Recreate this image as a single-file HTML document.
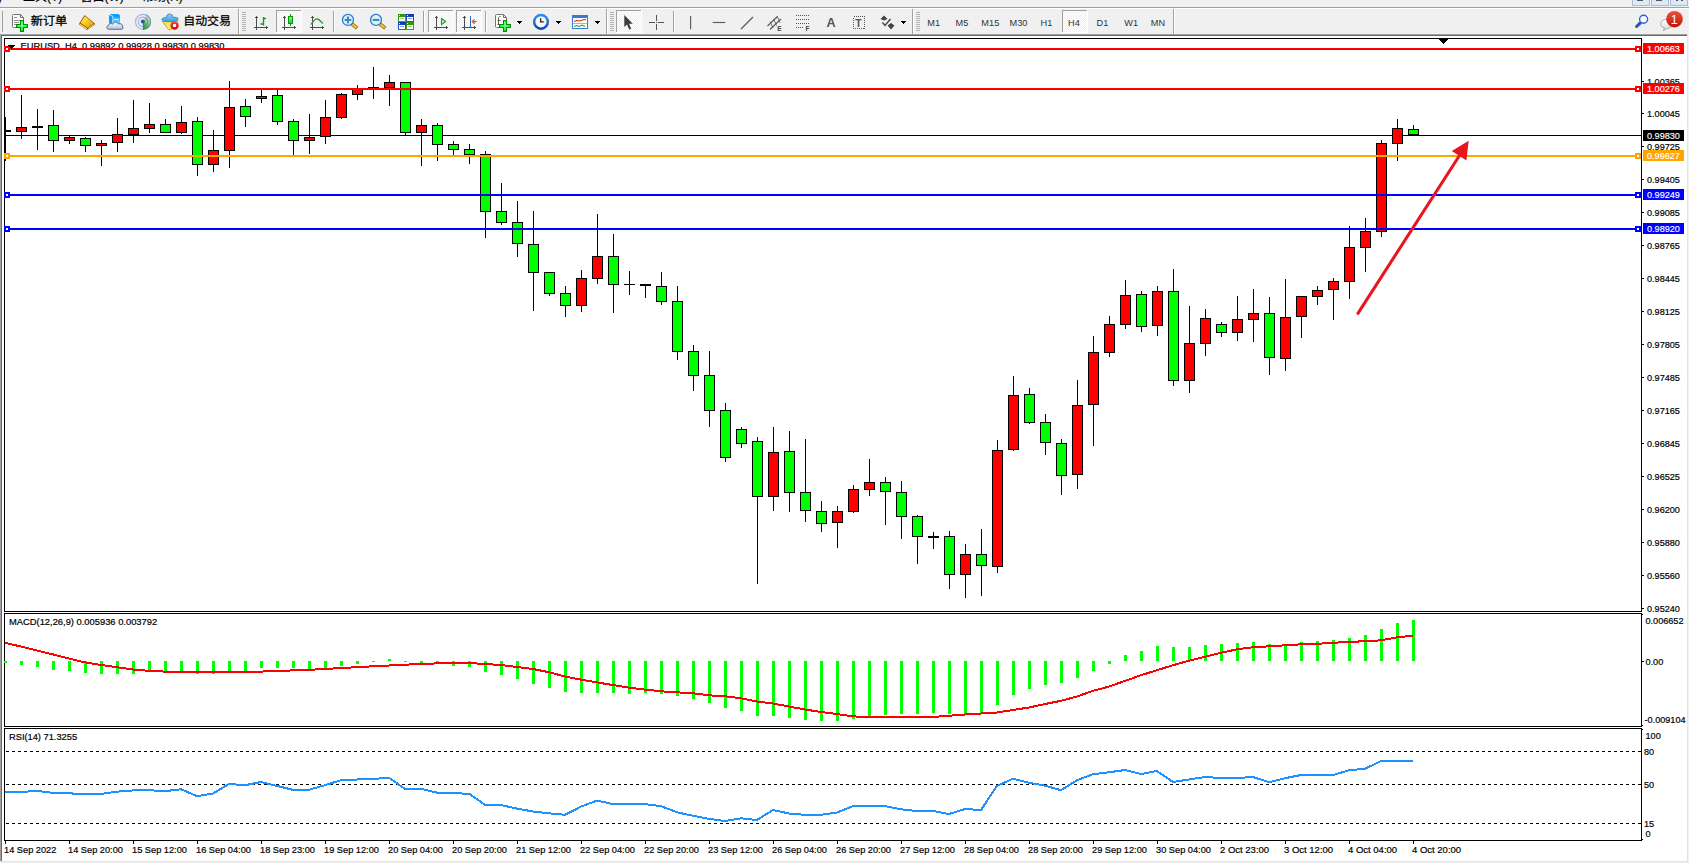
<!DOCTYPE html><html><head><meta charset="utf-8"><title>EURUSD H4</title><style>
html,body{margin:0;padding:0;}body{width:1689px;height:863px;overflow:hidden;background:#f0f0f0;position:relative;font-family:"Liberation Sans", sans-serif;}
#chart{position:absolute;left:0;top:0;}
#chart text{font-family:"Liberation Sans", sans-serif;font-size:9.7px;fill:#000;stroke:#000;stroke-width:0.2px;}#chart text.w{stroke:#fff;stroke-width:0.15px;}
#chart text.cj{stroke-width:0.25px;font:11.4px "Liberation Sans","Noto Sans CJK SC",sans-serif;}#chart .mn text{font:12px "Liberation Sans","Noto Sans CJK SC",sans-serif;}
</style></head><body>
<svg id="chart" width="1689" height="863" viewBox="0 0 1689 863">
<g shape-rendering="crispEdges">
<rect x="0" y="7" width="1689" height="1" fill="#a0a0a0"/><rect x="0" y="8" width="1689" height="1" fill="#ffffff"/>
<rect x="0" y="34" width="1689" height="829" fill="#a0a0a0"/>
<rect x="1" y="35" width="1688" height="828" fill="#696969"/>
<rect x="2" y="36" width="1687" height="827" fill="#ffffff"/>
<rect x="1687" y="34" width="1" height="829" fill="#e3e3e3"/><rect x="1688" y="34" width="1" height="829" fill="#f0f0f0"/>
<rect x="0" y="861" width="1689" height="1" fill="#e3e3e3"/><rect x="0" y="862" width="1689" height="1" fill="#f0f0f0"/>
<rect x="0" y="34" width="1" height="827" fill="#a0a0a0"/><rect x="1" y="35" width="1" height="826" fill="#696969"/>
<path d="M4.5 38.5H1641.5V611.5H4.5Z" fill="none" stroke="#000" stroke-width="1"/>
<path d="M4.5 613.5H1641.5V726.5H4.5Z" fill="none" stroke="#000" stroke-width="1"/>
<path d="M4.5 728.5H1641.5V840.5H4.5Z" fill="none" stroke="#000" stroke-width="1"/>
</g>
<defs><clipPath id="cm"><rect x="5" y="39" width="1636" height="572"/></clipPath></defs>
<g shape-rendering="crispEdges" clip-path="url(#cm)">
</g>
<text transform="translate(20.5 48.7) scale(0.961 1)">EURUSD, H4&#160; 0.99892 0.99928 0.99830 0.99830</text>
<g shape-rendering="crispEdges" clip-path="url(#cm)">
<rect x="5" y="135" width="1636" height="1" fill="#000"/>
<rect x="5" y="117" width="1" height="44" fill="#000"/>
<rect x="0" y="130" width="11" height="2" fill="#000"/>
<rect x="21" y="95" width="1" height="44" fill="#000"/>
<rect x="16.5" y="127.5" width="10" height="4" fill="#ff0000" stroke="#000" stroke-width="1"/>
<rect x="37" y="109" width="1" height="41" fill="#000"/>
<rect x="32" y="126" width="11" height="2" fill="#000"/>
<rect x="53" y="110" width="1" height="42" fill="#000"/>
<rect x="48.5" y="125.5" width="10" height="15" fill="#00ff00" stroke="#000" stroke-width="1"/>
<rect x="69" y="136" width="1" height="8" fill="#000"/>
<rect x="64.5" y="137.5" width="10" height="3" fill="#ff0000" stroke="#000" stroke-width="1"/>
<rect x="85" y="137" width="1" height="15" fill="#000"/>
<rect x="80.5" y="138.5" width="10" height="7" fill="#00ff00" stroke="#000" stroke-width="1"/>
<rect x="101" y="140" width="1" height="26" fill="#000"/>
<rect x="96.5" y="143.5" width="10" height="2" fill="#ff0000" stroke="#000" stroke-width="1"/>
<rect x="117" y="118" width="1" height="34" fill="#000"/>
<rect x="112.5" y="134.5" width="10" height="8" fill="#ff0000" stroke="#000" stroke-width="1"/>
<rect x="133" y="100" width="1" height="43" fill="#000"/>
<rect x="128.5" y="128.5" width="10" height="6" fill="#ff0000" stroke="#000" stroke-width="1"/>
<rect x="149" y="103" width="1" height="30" fill="#000"/>
<rect x="144.5" y="124.5" width="10" height="4" fill="#ff0000" stroke="#000" stroke-width="1"/>
<rect x="165" y="119" width="1" height="14" fill="#000"/>
<rect x="160.5" y="124.5" width="10" height="8" fill="#00ff00" stroke="#000" stroke-width="1"/>
<rect x="181" y="106" width="1" height="28" fill="#000"/>
<rect x="176.5" y="122.5" width="10" height="10" fill="#ff0000" stroke="#000" stroke-width="1"/>
<rect x="197" y="117" width="1" height="59" fill="#000"/>
<rect x="192.5" y="121.5" width="10" height="43" fill="#00ff00" stroke="#000" stroke-width="1"/>
<rect x="213" y="130" width="1" height="42" fill="#000"/>
<rect x="208.5" y="150.5" width="10" height="14" fill="#ff0000" stroke="#000" stroke-width="1"/>
<rect x="229" y="81" width="1" height="87" fill="#000"/>
<rect x="224.5" y="107.5" width="10" height="43" fill="#ff0000" stroke="#000" stroke-width="1"/>
<rect x="245" y="99" width="1" height="28" fill="#000"/>
<rect x="240.5" y="106.5" width="10" height="10" fill="#00ff00" stroke="#000" stroke-width="1"/>
<rect x="261" y="90" width="1" height="13" fill="#000"/>
<rect x="256.5" y="96.5" width="10" height="2" fill="#ff0000" stroke="#000" stroke-width="1"/>
<rect x="277" y="90" width="1" height="35" fill="#000"/>
<rect x="272.5" y="95.5" width="10" height="26" fill="#00ff00" stroke="#000" stroke-width="1"/>
<rect x="293" y="119" width="1" height="36" fill="#000"/>
<rect x="288.5" y="121.5" width="10" height="19" fill="#00ff00" stroke="#000" stroke-width="1"/>
<rect x="309" y="114" width="1" height="40" fill="#000"/>
<rect x="304.5" y="137.5" width="10" height="3" fill="#ff0000" stroke="#000" stroke-width="1"/>
<rect x="325" y="100" width="1" height="44" fill="#000"/>
<rect x="320.5" y="117.5" width="10" height="19" fill="#ff0000" stroke="#000" stroke-width="1"/>
<rect x="341" y="93" width="1" height="26" fill="#000"/>
<rect x="336.5" y="94.5" width="10" height="23" fill="#ff0000" stroke="#000" stroke-width="1"/>
<rect x="357" y="85" width="1" height="15" fill="#000"/>
<rect x="352.5" y="89.5" width="10" height="5" fill="#ff0000" stroke="#000" stroke-width="1"/>
<rect x="373" y="67" width="1" height="32" fill="#000"/>
<rect x="368" y="87" width="11" height="1" fill="#000"/>
<rect x="389" y="75" width="1" height="31" fill="#000"/>
<rect x="384.5" y="82.5" width="10" height="5" fill="#ff0000" stroke="#000" stroke-width="1"/>
<rect x="405" y="82" width="1" height="53" fill="#000"/>
<rect x="400.5" y="82.5" width="10" height="50" fill="#00ff00" stroke="#000" stroke-width="1"/>
<rect x="421" y="119" width="1" height="47" fill="#000"/>
<rect x="416.5" y="125.5" width="10" height="7" fill="#ff0000" stroke="#000" stroke-width="1"/>
<rect x="437" y="123" width="1" height="38" fill="#000"/>
<rect x="432.5" y="125.5" width="10" height="19" fill="#00ff00" stroke="#000" stroke-width="1"/>
<rect x="453" y="141" width="1" height="14" fill="#000"/>
<rect x="448.5" y="144.5" width="10" height="5" fill="#00ff00" stroke="#000" stroke-width="1"/>
<rect x="469" y="144" width="1" height="20" fill="#000"/>
<rect x="464.5" y="149.5" width="10" height="5" fill="#00ff00" stroke="#000" stroke-width="1"/>
<rect x="485" y="151" width="1" height="87" fill="#000"/>
<rect x="480.5" y="154.5" width="10" height="57" fill="#00ff00" stroke="#000" stroke-width="1"/>
<rect x="501" y="183" width="1" height="42" fill="#000"/>
<rect x="496.5" y="211.5" width="10" height="11" fill="#00ff00" stroke="#000" stroke-width="1"/>
<rect x="517" y="201" width="1" height="56" fill="#000"/>
<rect x="512.5" y="222.5" width="10" height="21" fill="#00ff00" stroke="#000" stroke-width="1"/>
<rect x="533" y="211" width="1" height="100" fill="#000"/>
<rect x="528.5" y="244.5" width="10" height="28" fill="#00ff00" stroke="#000" stroke-width="1"/>
<rect x="549" y="272" width="1" height="24" fill="#000"/>
<rect x="544.5" y="272.5" width="10" height="21" fill="#00ff00" stroke="#000" stroke-width="1"/>
<rect x="565" y="286" width="1" height="31" fill="#000"/>
<rect x="560.5" y="293.5" width="10" height="12" fill="#00ff00" stroke="#000" stroke-width="1"/>
<rect x="581" y="270" width="1" height="42" fill="#000"/>
<rect x="576.5" y="278.5" width="10" height="27" fill="#ff0000" stroke="#000" stroke-width="1"/>
<rect x="597" y="214" width="1" height="70" fill="#000"/>
<rect x="592.5" y="256.5" width="10" height="22" fill="#ff0000" stroke="#000" stroke-width="1"/>
<rect x="613" y="234" width="1" height="79" fill="#000"/>
<rect x="608.5" y="256.5" width="10" height="28" fill="#00ff00" stroke="#000" stroke-width="1"/>
<rect x="629" y="271" width="1" height="24" fill="#000"/>
<rect x="624" y="284" width="11" height="1" fill="#000"/>
<rect x="645" y="284" width="1" height="14" fill="#000"/>
<rect x="640" y="284" width="11" height="2" fill="#000"/>
<rect x="661" y="272" width="1" height="33" fill="#000"/>
<rect x="656.5" y="286.5" width="10" height="15" fill="#00ff00" stroke="#000" stroke-width="1"/>
<rect x="677" y="286" width="1" height="74" fill="#000"/>
<rect x="672.5" y="301.5" width="10" height="50" fill="#00ff00" stroke="#000" stroke-width="1"/>
<rect x="693" y="345" width="1" height="46" fill="#000"/>
<rect x="688.5" y="351.5" width="10" height="24" fill="#00ff00" stroke="#000" stroke-width="1"/>
<rect x="709" y="351" width="1" height="76" fill="#000"/>
<rect x="704.5" y="375.5" width="10" height="35" fill="#00ff00" stroke="#000" stroke-width="1"/>
<rect x="725" y="403" width="1" height="59" fill="#000"/>
<rect x="720.5" y="410.5" width="10" height="47" fill="#00ff00" stroke="#000" stroke-width="1"/>
<rect x="741" y="427" width="1" height="21" fill="#000"/>
<rect x="736.5" y="429.5" width="10" height="14" fill="#00ff00" stroke="#000" stroke-width="1"/>
<rect x="757" y="437" width="1" height="147" fill="#000"/>
<rect x="752.5" y="441.5" width="10" height="55" fill="#00ff00" stroke="#000" stroke-width="1"/>
<rect x="773" y="427" width="1" height="84" fill="#000"/>
<rect x="768.5" y="452.5" width="10" height="44" fill="#ff0000" stroke="#000" stroke-width="1"/>
<rect x="789" y="431" width="1" height="81" fill="#000"/>
<rect x="784.5" y="451.5" width="10" height="41" fill="#00ff00" stroke="#000" stroke-width="1"/>
<rect x="805" y="439" width="1" height="83" fill="#000"/>
<rect x="800.5" y="492.5" width="10" height="18" fill="#00ff00" stroke="#000" stroke-width="1"/>
<rect x="821" y="501" width="1" height="31" fill="#000"/>
<rect x="816.5" y="511.5" width="10" height="12" fill="#00ff00" stroke="#000" stroke-width="1"/>
<rect x="837" y="506" width="1" height="42" fill="#000"/>
<rect x="832.5" y="511.5" width="10" height="11" fill="#ff0000" stroke="#000" stroke-width="1"/>
<rect x="853" y="485" width="1" height="28" fill="#000"/>
<rect x="848.5" y="489.5" width="10" height="22" fill="#ff0000" stroke="#000" stroke-width="1"/>
<rect x="869" y="459" width="1" height="37" fill="#000"/>
<rect x="864.5" y="482.5" width="10" height="7" fill="#ff0000" stroke="#000" stroke-width="1"/>
<rect x="885" y="477" width="1" height="48" fill="#000"/>
<rect x="880.5" y="482.5" width="10" height="9" fill="#00ff00" stroke="#000" stroke-width="1"/>
<rect x="901" y="481" width="1" height="58" fill="#000"/>
<rect x="896.5" y="492.5" width="10" height="24" fill="#00ff00" stroke="#000" stroke-width="1"/>
<rect x="917" y="515" width="1" height="49" fill="#000"/>
<rect x="912.5" y="516.5" width="10" height="20" fill="#00ff00" stroke="#000" stroke-width="1"/>
<rect x="933" y="532" width="1" height="17" fill="#000"/>
<rect x="928" y="536" width="11" height="2" fill="#000"/>
<rect x="949" y="531" width="1" height="58" fill="#000"/>
<rect x="944.5" y="536.5" width="10" height="38" fill="#00ff00" stroke="#000" stroke-width="1"/>
<rect x="965" y="544" width="1" height="54" fill="#000"/>
<rect x="960.5" y="554.5" width="10" height="20" fill="#ff0000" stroke="#000" stroke-width="1"/>
<rect x="981" y="529" width="1" height="67" fill="#000"/>
<rect x="976.5" y="554.5" width="10" height="11" fill="#00ff00" stroke="#000" stroke-width="1"/>
<rect x="997" y="440" width="1" height="133" fill="#000"/>
<rect x="992.5" y="450.5" width="10" height="116" fill="#ff0000" stroke="#000" stroke-width="1"/>
<rect x="1013" y="376" width="1" height="75" fill="#000"/>
<rect x="1008.5" y="395.5" width="10" height="54" fill="#ff0000" stroke="#000" stroke-width="1"/>
<rect x="1029" y="388" width="1" height="36" fill="#000"/>
<rect x="1024.5" y="394.5" width="10" height="28" fill="#00ff00" stroke="#000" stroke-width="1"/>
<rect x="1045" y="414" width="1" height="41" fill="#000"/>
<rect x="1040.5" y="422.5" width="10" height="20" fill="#00ff00" stroke="#000" stroke-width="1"/>
<rect x="1061" y="439" width="1" height="56" fill="#000"/>
<rect x="1056.5" y="443.5" width="10" height="32" fill="#00ff00" stroke="#000" stroke-width="1"/>
<rect x="1077" y="380" width="1" height="109" fill="#000"/>
<rect x="1072.5" y="405.5" width="10" height="69" fill="#ff0000" stroke="#000" stroke-width="1"/>
<rect x="1093" y="336" width="1" height="110" fill="#000"/>
<rect x="1088.5" y="352.5" width="10" height="52" fill="#ff0000" stroke="#000" stroke-width="1"/>
<rect x="1109" y="316" width="1" height="41" fill="#000"/>
<rect x="1104.5" y="324.5" width="10" height="28" fill="#ff0000" stroke="#000" stroke-width="1"/>
<rect x="1125" y="280" width="1" height="49" fill="#000"/>
<rect x="1120.5" y="295.5" width="10" height="29" fill="#ff0000" stroke="#000" stroke-width="1"/>
<rect x="1141" y="291" width="1" height="41" fill="#000"/>
<rect x="1136.5" y="294.5" width="10" height="32" fill="#00ff00" stroke="#000" stroke-width="1"/>
<rect x="1157" y="286" width="1" height="50" fill="#000"/>
<rect x="1152.5" y="291.5" width="10" height="34" fill="#ff0000" stroke="#000" stroke-width="1"/>
<rect x="1173" y="269" width="1" height="117" fill="#000"/>
<rect x="1168.5" y="291.5" width="10" height="89" fill="#00ff00" stroke="#000" stroke-width="1"/>
<rect x="1189" y="306" width="1" height="87" fill="#000"/>
<rect x="1184.5" y="343.5" width="10" height="37" fill="#ff0000" stroke="#000" stroke-width="1"/>
<rect x="1205" y="309" width="1" height="47" fill="#000"/>
<rect x="1200.5" y="318.5" width="10" height="25" fill="#ff0000" stroke="#000" stroke-width="1"/>
<rect x="1221" y="322" width="1" height="15" fill="#000"/>
<rect x="1216.5" y="324.5" width="10" height="8" fill="#00ff00" stroke="#000" stroke-width="1"/>
<rect x="1237" y="296" width="1" height="45" fill="#000"/>
<rect x="1232.5" y="319.5" width="10" height="13" fill="#ff0000" stroke="#000" stroke-width="1"/>
<rect x="1253" y="289" width="1" height="53" fill="#000"/>
<rect x="1248.5" y="313.5" width="10" height="6" fill="#ff0000" stroke="#000" stroke-width="1"/>
<rect x="1269" y="297" width="1" height="78" fill="#000"/>
<rect x="1264.5" y="313.5" width="10" height="44" fill="#00ff00" stroke="#000" stroke-width="1"/>
<rect x="1285" y="279" width="1" height="92" fill="#000"/>
<rect x="1280.5" y="317.5" width="10" height="41" fill="#ff0000" stroke="#000" stroke-width="1"/>
<rect x="1301" y="296" width="1" height="42" fill="#000"/>
<rect x="1296.5" y="296.5" width="10" height="20" fill="#ff0000" stroke="#000" stroke-width="1"/>
<rect x="1317" y="286" width="1" height="19" fill="#000"/>
<rect x="1312.5" y="290.5" width="10" height="6" fill="#ff0000" stroke="#000" stroke-width="1"/>
<rect x="1333" y="278" width="1" height="42" fill="#000"/>
<rect x="1328.5" y="281.5" width="10" height="8" fill="#ff0000" stroke="#000" stroke-width="1"/>
<rect x="1349" y="226" width="1" height="73" fill="#000"/>
<rect x="1344.5" y="247.5" width="10" height="34" fill="#ff0000" stroke="#000" stroke-width="1"/>
<rect x="1365" y="218" width="1" height="54" fill="#000"/>
<rect x="1360.5" y="231.5" width="10" height="16" fill="#ff0000" stroke="#000" stroke-width="1"/>
<rect x="1381" y="140" width="1" height="97" fill="#000"/>
<rect x="1376.5" y="143.5" width="10" height="88" fill="#ff0000" stroke="#000" stroke-width="1"/>
<rect x="1397" y="119" width="1" height="42" fill="#000"/>
<rect x="1392.5" y="128.5" width="10" height="15" fill="#ff0000" stroke="#000" stroke-width="1"/>
<rect x="1413" y="125" width="1" height="10" fill="#000"/>
<rect x="1408.5" y="129.5" width="10" height="5" fill="#00ff00" stroke="#000" stroke-width="1"/>
<rect x="5" y="48" width="1636" height="2" fill="#ff0000"/>
<rect x="5" y="88" width="1636" height="2" fill="#ff0000"/>
<rect x="5" y="155" width="1636" height="2" fill="#ffa500"/>
<rect x="5" y="194" width="1636" height="2" fill="#0000ff"/>
<rect x="5" y="228" width="1636" height="2" fill="#0000ff"/>
</g>
<g shape-rendering="crispEdges">
<rect x="4" y="46" width="6" height="6" fill="#ff0000"/><rect x="6" y="48" width="2" height="2" fill="#fff"/>
<rect x="1635" y="46" width="6" height="6" fill="#ff0000"/><rect x="1637" y="48" width="2" height="2" fill="#fff"/>
<rect x="4" y="86" width="6" height="6" fill="#ff0000"/><rect x="6" y="88" width="2" height="2" fill="#fff"/>
<rect x="1635" y="86" width="6" height="6" fill="#ff0000"/><rect x="1637" y="88" width="2" height="2" fill="#fff"/>
<rect x="4" y="153" width="6" height="6" fill="#ffa500"/><rect x="6" y="155" width="2" height="2" fill="#fff"/>
<rect x="1635" y="153" width="6" height="6" fill="#ffa500"/><rect x="1637" y="155" width="2" height="2" fill="#fff"/>
<rect x="4" y="192" width="6" height="6" fill="#0000ff"/><rect x="6" y="194" width="2" height="2" fill="#fff"/>
<rect x="1635" y="192" width="6" height="6" fill="#0000ff"/><rect x="1637" y="194" width="2" height="2" fill="#fff"/>
<rect x="4" y="226" width="6" height="6" fill="#0000ff"/><rect x="6" y="228" width="2" height="2" fill="#fff"/>
<rect x="1635" y="226" width="6" height="6" fill="#0000ff"/><rect x="1637" y="228" width="2" height="2" fill="#fff"/>
<path d="M8 45H15L11.5 49Z" fill="#000"/>
<path d="M1438.5 39H1448.5L1443.5 44Z" fill="#000"/>
<rect x="1642" y="81" width="2" height="1" fill="#000"/>
<rect x="1642" y="113" width="2" height="1" fill="#000"/>
<rect x="1642" y="146" width="2" height="1" fill="#000"/>
<rect x="1642" y="179" width="2" height="1" fill="#000"/>
<rect x="1642" y="212" width="2" height="1" fill="#000"/>
<rect x="1642" y="245" width="2" height="1" fill="#000"/>
<rect x="1642" y="278" width="2" height="1" fill="#000"/>
<rect x="1642" y="311" width="2" height="1" fill="#000"/>
<rect x="1642" y="344" width="2" height="1" fill="#000"/>
<rect x="1642" y="377" width="2" height="1" fill="#000"/>
<rect x="1642" y="410" width="2" height="1" fill="#000"/>
<rect x="1642" y="443" width="2" height="1" fill="#000"/>
<rect x="1642" y="476" width="2" height="1" fill="#000"/>
<rect x="1642" y="509" width="2" height="1" fill="#000"/>
<rect x="1642" y="542" width="2" height="1" fill="#000"/>
<rect x="1642" y="575" width="2" height="1" fill="#000"/>
<rect x="1642" y="608" width="2" height="1" fill="#000"/>
</g>
<text transform="translate(1647 84.6) scale(0.94 1)">1.00365</text>
<text transform="translate(1647 116.6) scale(0.94 1)">1.00045</text>
<text transform="translate(1647 149.6) scale(0.94 1)">0.99725</text>
<text transform="translate(1647 182.6) scale(0.94 1)">0.99405</text>
<text transform="translate(1647 215.6) scale(0.94 1)">0.99085</text>
<text transform="translate(1647 248.6) scale(0.94 1)">0.98765</text>
<text transform="translate(1647 281.6) scale(0.94 1)">0.98445</text>
<text transform="translate(1647 314.6) scale(0.94 1)">0.98125</text>
<text transform="translate(1647 347.6) scale(0.94 1)">0.97805</text>
<text transform="translate(1647 380.6) scale(0.94 1)">0.97485</text>
<text transform="translate(1647 413.6) scale(0.94 1)">0.97165</text>
<text transform="translate(1647 446.6) scale(0.94 1)">0.96845</text>
<text transform="translate(1647 479.6) scale(0.94 1)">0.96525</text>
<text transform="translate(1647 512.6) scale(0.94 1)">0.96200</text>
<text transform="translate(1647 545.6) scale(0.94 1)">0.95880</text>
<text transform="translate(1647 578.6) scale(0.94 1)">0.95560</text>
<text transform="translate(1647 611.6) scale(0.94 1)">0.95240</text>
<rect x="1643" y="43" width="41" height="11" fill="#ff0000" shape-rendering="crispEdges"/>
<text transform="translate(1647 51.7) scale(0.94 1)" class="w" style="fill:#fff">1.00663</text>
<rect x="1643" y="83" width="41" height="11" fill="#ff0000" shape-rendering="crispEdges"/>
<text transform="translate(1647 91.7) scale(0.94 1)" class="w" style="fill:#fff">1.00276</text>
<rect x="1643" y="130" width="41" height="11" fill="#000000" shape-rendering="crispEdges"/>
<text transform="translate(1647 138.7) scale(0.94 1)" class="w" style="fill:#fff">0.99830</text>
<rect x="1643" y="150" width="41" height="11" fill="#ffa500" shape-rendering="crispEdges"/>
<text transform="translate(1647 158.7) scale(0.94 1)" class="w" style="fill:#fff">0.99627</text>
<rect x="1643" y="189" width="41" height="11" fill="#0000ff" shape-rendering="crispEdges"/>
<text transform="translate(1647 197.7) scale(0.94 1)" class="w" style="fill:#fff">0.99249</text>
<rect x="1643" y="223" width="41" height="11" fill="#0000ff" shape-rendering="crispEdges"/>
<text transform="translate(1647 231.7) scale(0.94 1)" class="w" style="fill:#fff">0.98920</text>
<g stroke="#e8141f" fill="#e8141f"><line x1="1357.3" y1="314.3" x2="1459.5" y2="155.5" stroke-width="3.05"/><path d="M1468.7 140.7L1451.8 151.1L1466.4 160.5Z" stroke="none"/></g>
<g shape-rendering="crispEdges">
<rect x="4" y="661" width="3" height="2" fill="#00ff00"/>
<rect x="20" y="661" width="3" height="4" fill="#00ff00"/>
<rect x="36" y="661" width="3" height="6" fill="#00ff00"/>
<rect x="52" y="661" width="3" height="9" fill="#00ff00"/>
<rect x="68" y="661" width="3" height="10" fill="#00ff00"/>
<rect x="84" y="661" width="3" height="12" fill="#00ff00"/>
<rect x="100" y="661" width="3" height="13" fill="#00ff00"/>
<rect x="116" y="661" width="3" height="13" fill="#00ff00"/>
<rect x="132" y="661" width="3" height="13" fill="#00ff00"/>
<rect x="148" y="661" width="3" height="11" fill="#00ff00"/>
<rect x="164" y="661" width="3" height="10" fill="#00ff00"/>
<rect x="180" y="661" width="3" height="10" fill="#00ff00"/>
<rect x="196" y="661" width="3" height="13" fill="#00ff00"/>
<rect x="212" y="661" width="3" height="13" fill="#00ff00"/>
<rect x="228" y="661" width="3" height="10" fill="#00ff00"/>
<rect x="244" y="661" width="3" height="10" fill="#00ff00"/>
<rect x="260" y="661" width="3" height="7" fill="#00ff00"/>
<rect x="276" y="661" width="3" height="7" fill="#00ff00"/>
<rect x="292" y="661" width="3" height="7" fill="#00ff00"/>
<rect x="308" y="661" width="3" height="8" fill="#00ff00"/>
<rect x="324" y="661" width="3" height="7" fill="#00ff00"/>
<rect x="340" y="661" width="3" height="5" fill="#00ff00"/>
<rect x="356" y="661" width="3" height="3" fill="#00ff00"/>
<rect x="372" y="661" width="3" height="1" fill="#00ff00"/>
<rect x="388" y="659" width="3" height="2" fill="#00ff00"/>
<rect x="404" y="661" width="3" height="1" fill="#00ff00"/>
<rect x="420" y="661" width="3" height="2" fill="#00ff00"/>
<rect x="436" y="661" width="3" height="3" fill="#00ff00"/>
<rect x="452" y="661" width="3" height="5" fill="#00ff00"/>
<rect x="468" y="661" width="3" height="6" fill="#00ff00"/>
<rect x="484" y="661" width="3" height="11" fill="#00ff00"/>
<rect x="500" y="661" width="3" height="14" fill="#00ff00"/>
<rect x="516" y="661" width="3" height="18" fill="#00ff00"/>
<rect x="532" y="661" width="3" height="23" fill="#00ff00"/>
<rect x="548" y="661" width="3" height="27" fill="#00ff00"/>
<rect x="564" y="661" width="3" height="31" fill="#00ff00"/>
<rect x="580" y="661" width="3" height="32" fill="#00ff00"/>
<rect x="596" y="661" width="3" height="32" fill="#00ff00"/>
<rect x="612" y="661" width="3" height="32" fill="#00ff00"/>
<rect x="628" y="661" width="3" height="33" fill="#00ff00"/>
<rect x="644" y="661" width="3" height="32" fill="#00ff00"/>
<rect x="660" y="661" width="3" height="33" fill="#00ff00"/>
<rect x="676" y="661" width="3" height="35" fill="#00ff00"/>
<rect x="692" y="661" width="3" height="38" fill="#00ff00"/>
<rect x="708" y="661" width="3" height="42" fill="#00ff00"/>
<rect x="724" y="661" width="3" height="47" fill="#00ff00"/>
<rect x="740" y="661" width="3" height="50" fill="#00ff00"/>
<rect x="756" y="661" width="3" height="55" fill="#00ff00"/>
<rect x="772" y="661" width="3" height="55" fill="#00ff00"/>
<rect x="788" y="661" width="3" height="57" fill="#00ff00"/>
<rect x="804" y="661" width="3" height="59" fill="#00ff00"/>
<rect x="820" y="661" width="3" height="60" fill="#00ff00"/>
<rect x="836" y="661" width="3" height="60" fill="#00ff00"/>
<rect x="852" y="661" width="3" height="58" fill="#00ff00"/>
<rect x="868" y="661" width="3" height="55" fill="#00ff00"/>
<rect x="884" y="661" width="3" height="54" fill="#00ff00"/>
<rect x="900" y="661" width="3" height="53" fill="#00ff00"/>
<rect x="916" y="661" width="3" height="53" fill="#00ff00"/>
<rect x="932" y="661" width="3" height="52" fill="#00ff00"/>
<rect x="948" y="661" width="3" height="53" fill="#00ff00"/>
<rect x="964" y="661" width="3" height="53" fill="#00ff00"/>
<rect x="980" y="661" width="3" height="52" fill="#00ff00"/>
<rect x="996" y="661" width="3" height="44" fill="#00ff00"/>
<rect x="1012" y="661" width="3" height="34" fill="#00ff00"/>
<rect x="1028" y="661" width="3" height="28" fill="#00ff00"/>
<rect x="1044" y="661" width="3" height="24" fill="#00ff00"/>
<rect x="1060" y="661" width="3" height="22" fill="#00ff00"/>
<rect x="1076" y="661" width="3" height="17" fill="#00ff00"/>
<rect x="1092" y="661" width="3" height="10" fill="#00ff00"/>
<rect x="1108" y="661" width="3" height="3" fill="#00ff00"/>
<rect x="1124" y="655" width="3" height="6" fill="#00ff00"/>
<rect x="1140" y="651" width="3" height="10" fill="#00ff00"/>
<rect x="1156" y="646" width="3" height="15" fill="#00ff00"/>
<rect x="1172" y="647" width="3" height="14" fill="#00ff00"/>
<rect x="1188" y="647" width="3" height="14" fill="#00ff00"/>
<rect x="1204" y="645" width="3" height="16" fill="#00ff00"/>
<rect x="1220" y="644" width="3" height="17" fill="#00ff00"/>
<rect x="1236" y="643" width="3" height="18" fill="#00ff00"/>
<rect x="1252" y="642" width="3" height="19" fill="#00ff00"/>
<rect x="1268" y="644" width="3" height="17" fill="#00ff00"/>
<rect x="1284" y="644" width="3" height="17" fill="#00ff00"/>
<rect x="1300" y="642" width="3" height="19" fill="#00ff00"/>
<rect x="1316" y="641" width="3" height="20" fill="#00ff00"/>
<rect x="1332" y="640" width="3" height="21" fill="#00ff00"/>
<rect x="1348" y="638" width="3" height="23" fill="#00ff00"/>
<rect x="1364" y="635" width="3" height="26" fill="#00ff00"/>
<rect x="1380" y="629" width="3" height="32" fill="#00ff00"/>
<rect x="1396" y="623" width="3" height="38" fill="#00ff00"/>
<rect x="1412" y="620" width="3" height="41" fill="#00ff00"/>
<polyline points="5,642.9 21,646.5 37,650.5 53,654.4 69,658.5 85,662.4 101,665.0 117,667.2 133,669.5 149,670.8 165,671.6 181,671.6 197,671.6 213,671.6 229,671.6 245,671.6 261,671.6 277,671.0 293,670.4 309,669.8 325,669.0 341,668.0 357,667.2 373,666.3 389,665.5 405,664.7 421,664.0 437,663.4 453,663.0 469,663.0 485,664.0 501,665.0 517,667.0 533,669.0 549,672.2 565,676.6 581,679.6 597,682.4 613,685.1 629,687.6 645,689.6 661,691.3 677,692.3 693,693.3 709,695.3 725,696.3 741,698.3 757,701.5 773,703.5 789,706.5 805,709.5 821,712.0 837,714.0 853,716.4 869,717.0 885,717.0 901,717.0 917,717.0 933,717.0 949,715.7 965,714.5 981,713.5 997,712.5 1013,710.0 1029,707.5 1045,704.0 1061,700.8 1077,696.5 1093,690.8 1109,686.6 1125,680.9 1141,675.2 1157,670.2 1173,665.2 1189,660.7 1205,656.8 1221,652.8 1237,649.3 1253,647.3 1269,646.3 1285,645.3 1301,644.3 1317,643.8 1333,642.8 1349,641.8 1365,641.3 1381,640.3 1397,637.4 1413,635.6" fill="none" stroke="#ff0000" stroke-width="2"/>
<rect x="1642" y="614" width="1" height="1" fill="#000"/><rect x="1642" y="661" width="2" height="1" fill="#000"/><rect x="1642" y="725" width="1" height="1" fill="#000"/>
</g>
<text transform="translate(9 625.1) scale(0.966 1)">MACD(12,26,9) 0.005936 0.003792</text>
<text transform="translate(1645.5 623.7) scale(0.94 1)">0.006652</text><text transform="translate(1645.5 664.7) scale(0.94 1)">0.00</text><text transform="translate(1644.5 722.7) scale(0.94 1)">-0.009104</text>
<g shape-rendering="crispEdges">
<line x1="6" y1="751.5" x2="1641" y2="751.5" stroke="#000" stroke-width="1" stroke-dasharray="3 3"/>
<line x1="6" y1="784.5" x2="1641" y2="784.5" stroke="#000" stroke-width="1" stroke-dasharray="3 3"/>
<line x1="6" y1="823.5" x2="1641" y2="823.5" stroke="#000" stroke-width="1" stroke-dasharray="3 3"/>
<polyline points="5,792.2 21,792.0 37,790.9 53,792.9 69,793.4 85,793.9 101,793.9 117,791.7 133,790.4 149,790.2 165,791.2 181,789.2 197,796.1 213,793.6 229,783.9 245,785.2 261,782.0 277,785.9 293,789.9 309,789.7 325,785.2 341,780.2 357,779.5 373,779.0 389,777.7 405,788.9 421,788.9 437,792.6 453,793.4 469,793.6 485,804.8 501,805.1 517,808.6 533,811.5 549,813.3 565,814.8 581,806.6 597,800.6 613,804.1 629,804.1 645,804.1 661,806.1 677,812.3 693,815.8 709,818.8 725,821.0 741,818.3 757,820.0 773,810.0 789,813.5 805,814.8 821,814.8 837,812.5 853,806.1 869,806.1 885,806.1 901,809.3 917,811.0 933,811.0 949,814.0 965,809.0 981,810.0 997,785.9 1013,778.7 1029,782.7 1045,785.7 1061,790.2 1077,780.2 1093,774.2 1109,772.3 1125,770.0 1141,774.0 1157,771.0 1173,782.0 1189,779.5 1205,777.0 1221,778.0 1237,778.0 1253,777.0 1269,782.2 1285,778.2 1301,775.0 1317,775.0 1333,775.0 1349,770.3 1365,768.8 1381,761.0 1397,761.0 1413,761.0" fill="none" stroke="#1e90ff" stroke-width="2"/>
<rect x="1642" y="729" width="1" height="1" fill="#000"/><rect x="1642" y="839" width="1" height="1" fill="#000"/>
<rect x="5" y="841" width="1" height="3" fill="#000"/>
<rect x="69" y="841" width="1" height="3" fill="#000"/>
<rect x="133" y="841" width="1" height="3" fill="#000"/>
<rect x="197" y="841" width="1" height="3" fill="#000"/>
<rect x="261" y="841" width="1" height="3" fill="#000"/>
<rect x="325" y="841" width="1" height="3" fill="#000"/>
<rect x="389" y="841" width="1" height="3" fill="#000"/>
<rect x="453" y="841" width="1" height="3" fill="#000"/>
<rect x="517" y="841" width="1" height="3" fill="#000"/>
<rect x="581" y="841" width="1" height="3" fill="#000"/>
<rect x="645" y="841" width="1" height="3" fill="#000"/>
<rect x="709" y="841" width="1" height="3" fill="#000"/>
<rect x="773" y="841" width="1" height="3" fill="#000"/>
<rect x="837" y="841" width="1" height="3" fill="#000"/>
<rect x="901" y="841" width="1" height="3" fill="#000"/>
<rect x="965" y="841" width="1" height="3" fill="#000"/>
<rect x="1029" y="841" width="1" height="3" fill="#000"/>
<rect x="1093" y="841" width="1" height="3" fill="#000"/>
<rect x="1157" y="841" width="1" height="3" fill="#000"/>
<rect x="1221" y="841" width="1" height="3" fill="#000"/>
<rect x="1285" y="841" width="1" height="3" fill="#000"/>
<rect x="1349" y="841" width="1" height="3" fill="#000"/>
<rect x="1413" y="841" width="1" height="3" fill="#000"/>
</g>
<text transform="translate(9 740.1) scale(0.957 1)">RSI(14) 71.3255</text>
<text transform="translate(1645.5 738.7) scale(0.94 1)">100</text><text transform="translate(1644 754.7) scale(0.94 1)">80</text><text transform="translate(1644 787.7) scale(0.94 1)">50</text><text transform="translate(1644 826.7) scale(0.94 1)">15</text><text transform="translate(1645.5 836.7) scale(0.94 1)">0</text>
<text transform="translate(4 852.6) scale(0.952 1)">14 Sep 2022</text>
<text transform="translate(68 852.6) scale(0.952 1)">14 Sep 20:00</text>
<text transform="translate(132 852.6) scale(0.952 1)">15 Sep 12:00</text>
<text transform="translate(196 852.6) scale(0.952 1)">16 Sep 04:00</text>
<text transform="translate(260 852.6) scale(0.952 1)">18 Sep 23:00</text>
<text transform="translate(324 852.6) scale(0.952 1)">19 Sep 12:00</text>
<text transform="translate(388 852.6) scale(0.952 1)">20 Sep 04:00</text>
<text transform="translate(452 852.6) scale(0.952 1)">20 Sep 20:00</text>
<text transform="translate(516 852.6) scale(0.952 1)">21 Sep 12:00</text>
<text transform="translate(580 852.6) scale(0.952 1)">22 Sep 04:00</text>
<text transform="translate(644 852.6) scale(0.952 1)">22 Sep 20:00</text>
<text transform="translate(708 852.6) scale(0.952 1)">23 Sep 12:00</text>
<text transform="translate(772 852.6) scale(0.952 1)">26 Sep 04:00</text>
<text transform="translate(836 852.6) scale(0.952 1)">26 Sep 20:00</text>
<text transform="translate(900 852.6) scale(0.952 1)">27 Sep 12:00</text>
<text transform="translate(964 852.6) scale(0.952 1)">28 Sep 04:00</text>
<text transform="translate(1028 852.6) scale(0.952 1)">28 Sep 20:00</text>
<text transform="translate(1092 852.6) scale(0.952 1)">29 Sep 12:00</text>
<text transform="translate(1156 852.6) scale(0.952 1)">30 Sep 04:00</text>
<text transform="translate(1220 852.6) scale(0.98 1)">2 Oct 23:00</text>
<text transform="translate(1284 852.6) scale(0.98 1)">3 Oct 12:00</text>
<text transform="translate(1348 852.6) scale(0.98 1)">4 Oct 04:00</text>
<text transform="translate(1412 852.6) scale(0.98 1)">4 Oct 20:00</text>
<defs>
<pattern id="chk" width="2" height="2" patternUnits="userSpaceOnUse"><rect width="2" height="2" fill="#f0f0f0"/><rect width="1" height="1" fill="#fff"/><rect x="1" y="1" width="1" height="1" fill="#fff"/></pattern>
<linearGradient id="gpl" x1="0" y1="0" x2="0" y2="1"><stop offset="0" stop-color="#7dff7d"/><stop offset="1" stop-color="#00b400"/></linearGradient>
<linearGradient id="ggold" x1="0" y1="0" x2="1" y2="1"><stop offset="0" stop-color="#fff07a"/><stop offset="0.5" stop-color="#f6cc1c"/><stop offset="1" stop-color="#dc9a10"/></linearGradient>
<linearGradient id="gred" x1="0" y1="0" x2="0" y2="1"><stop offset="0" stop-color="#f0503c"/><stop offset="1" stop-color="#c01408"/></linearGradient>
<linearGradient id="gblue" x1="0" y1="0" x2="0" y2="1"><stop offset="0" stop-color="#5ab0ff"/><stop offset="1" stop-color="#1464d2"/></linearGradient>
<linearGradient id="gcnd" x1="0" y1="0" x2="0" y2="1"><stop offset="0" stop-color="#8cf58c"/><stop offset="1" stop-color="#1ec81e"/></linearGradient>
<radialGradient id="gpl2" cx="0.5" cy="0.35" r="0.7"><stop offset="0" stop-color="#7dff8c"/><stop offset="0.6" stop-color="#1eff3c"/><stop offset="1" stop-color="#00d21e"/></radialGradient>
<linearGradient id="gsrv" x1="0" y1="0" x2="0" y2="1"><stop offset="0" stop-color="#14a0ff"/><stop offset="1" stop-color="#7ad6ff"/></linearGradient>
<linearGradient id="gcloud" x1="0" y1="0" x2="0" y2="1"><stop offset="0" stop-color="#ffffff"/><stop offset="1" stop-color="#b4c0d6"/></linearGradient>
<linearGradient id="gsig" x1="0" y1="1" x2="0.4" y2="0"><stop offset="0" stop-color="#1e9a1e" stop-opacity="1"/><stop offset="0.45" stop-color="#5aac5a" stop-opacity="0.8"/><stop offset="1" stop-color="#b4d2b4" stop-opacity="0.45"/></linearGradient>
<linearGradient id="gyel" x1="0" y1="0" x2="1" y2="1"><stop offset="0" stop-color="#f6d02a"/><stop offset="0.6" stop-color="#fff07a"/><stop offset="1" stop-color="#f0c020"/></linearGradient>
<linearGradient id="ghat" x1="0" y1="0" x2="0" y2="1"><stop offset="0" stop-color="#8cd0f8"/><stop offset="1" stop-color="#3ca0e4"/></linearGradient>
<linearGradient id="gclk" x1="0" y1="0" x2="0" y2="1"><stop offset="0" stop-color="#2a90f0"/><stop offset="1" stop-color="#0848b0"/></linearGradient>
</defs>
<g class="mn"><text x="-2" y="1">)</text><text x="23" y="1">工具(T)</text><text x="80.5" y="1">窗口(W)</text><text x="142" y="1">帮助(H)</text></g>
<g shape-rendering="crispEdges">
<rect x="1632.5" y="-3.5" width="17" height="9" fill="#dce9f7" stroke="#a9bdd8"/>
<rect x="1651.5" y="-3.5" width="17" height="9" fill="#dce9f7" stroke="#a9bdd8"/>
<rect x="1670.5" y="-3.5" width="17" height="9" fill="#dce9f7" stroke="#a9bdd8"/>
<rect x="1637" y="0" width="6" height="1" fill="#555"/><rect x="1656" y="0" width="6" height="1" fill="#555"/><rect x="1676" y="0" width="2" height="1" fill="#555"/><rect x="1681" y="0" width="2" height="1" fill="#555"/>
<rect x="2" y="11" width="1" height="21" fill="#a0a0a0"/>
<rect x="242" y="12" width="4" height="1" fill="#b4b4b4"/>
<rect x="242" y="14" width="4" height="1" fill="#b4b4b4"/>
<rect x="242" y="16" width="4" height="1" fill="#b4b4b4"/>
<rect x="242" y="18" width="4" height="1" fill="#b4b4b4"/>
<rect x="242" y="20" width="4" height="1" fill="#b4b4b4"/>
<rect x="242" y="22" width="4" height="1" fill="#b4b4b4"/>
<rect x="242" y="24" width="4" height="1" fill="#b4b4b4"/>
<rect x="242" y="26" width="4" height="1" fill="#b4b4b4"/>
<rect x="242" y="28" width="4" height="1" fill="#b4b4b4"/>
<rect x="242" y="30" width="4" height="1" fill="#b4b4b4"/>
<rect x="610" y="12" width="4" height="1" fill="#b4b4b4"/>
<rect x="610" y="14" width="4" height="1" fill="#b4b4b4"/>
<rect x="610" y="16" width="4" height="1" fill="#b4b4b4"/>
<rect x="610" y="18" width="4" height="1" fill="#b4b4b4"/>
<rect x="610" y="20" width="4" height="1" fill="#b4b4b4"/>
<rect x="610" y="22" width="4" height="1" fill="#b4b4b4"/>
<rect x="610" y="24" width="4" height="1" fill="#b4b4b4"/>
<rect x="610" y="26" width="4" height="1" fill="#b4b4b4"/>
<rect x="610" y="28" width="4" height="1" fill="#b4b4b4"/>
<rect x="610" y="30" width="4" height="1" fill="#b4b4b4"/>
<rect x="916" y="12" width="4" height="1" fill="#b4b4b4"/>
<rect x="916" y="14" width="4" height="1" fill="#b4b4b4"/>
<rect x="916" y="16" width="4" height="1" fill="#b4b4b4"/>
<rect x="916" y="18" width="4" height="1" fill="#b4b4b4"/>
<rect x="916" y="20" width="4" height="1" fill="#b4b4b4"/>
<rect x="916" y="22" width="4" height="1" fill="#b4b4b4"/>
<rect x="916" y="24" width="4" height="1" fill="#b4b4b4"/>
<rect x="916" y="26" width="4" height="1" fill="#b4b4b4"/>
<rect x="916" y="28" width="4" height="1" fill="#b4b4b4"/>
<rect x="916" y="30" width="4" height="1" fill="#b4b4b4"/>
<rect x="238" y="9" width="1" height="25" fill="#a0a0a0"/><rect x="239" y="9" width="1" height="25" fill="#fff"/>
<rect x="606" y="9" width="1" height="25" fill="#a0a0a0"/><rect x="607" y="9" width="1" height="25" fill="#fff"/>
<rect x="912" y="9" width="1" height="25" fill="#a0a0a0"/><rect x="913" y="9" width="1" height="25" fill="#fff"/>
<rect x="1173" y="9" width="1" height="25" fill="#a0a0a0"/><rect x="1174" y="9" width="1" height="25" fill="#fff"/>
<rect x="333" y="11" width="1" height="21" fill="#a0a0a0"/><rect x="334" y="11" width="1" height="21" fill="#fff"/>
<rect x="423" y="11" width="1" height="21" fill="#a0a0a0"/><rect x="424" y="11" width="1" height="21" fill="#fff"/>
<rect x="485" y="11" width="1" height="21" fill="#a0a0a0"/><rect x="486" y="11" width="1" height="21" fill="#fff"/>
<rect x="673" y="11" width="1" height="21" fill="#a0a0a0"/><rect x="674" y="11" width="1" height="21" fill="#fff"/>
<rect x="276" y="10" width="26" height="23" fill="url(#chk)"/>
<rect x="276" y="10" width="26" height="1" fill="#a0a0a0"/><rect x="276" y="10" width="1" height="23" fill="#a0a0a0"/>
<rect x="276" y="32" width="26" height="1" fill="#fff"/><rect x="301" y="10" width="1" height="23" fill="#fff"/>
<rect x="428" y="10" width="26" height="23" fill="url(#chk)"/>
<rect x="428" y="10" width="26" height="1" fill="#a0a0a0"/><rect x="428" y="10" width="1" height="23" fill="#a0a0a0"/>
<rect x="428" y="32" width="26" height="1" fill="#fff"/><rect x="453" y="10" width="1" height="23" fill="#fff"/>
<rect x="456" y="10" width="26" height="23" fill="url(#chk)"/>
<rect x="456" y="10" width="26" height="1" fill="#a0a0a0"/><rect x="456" y="10" width="1" height="23" fill="#a0a0a0"/>
<rect x="456" y="32" width="26" height="1" fill="#fff"/><rect x="481" y="10" width="1" height="23" fill="#fff"/>
<rect x="616" y="10" width="26" height="23" fill="url(#chk)"/>
<rect x="616" y="10" width="26" height="1" fill="#a0a0a0"/><rect x="616" y="10" width="1" height="23" fill="#a0a0a0"/>
<rect x="616" y="32" width="26" height="1" fill="#fff"/><rect x="641" y="10" width="1" height="23" fill="#fff"/>
<rect x="1062" y="10" width="26" height="23" fill="url(#chk)"/>
<rect x="1062" y="10" width="26" height="1" fill="#a0a0a0"/><rect x="1062" y="10" width="1" height="23" fill="#a0a0a0"/>
<rect x="1062" y="32" width="26" height="1" fill="#fff"/><rect x="1087" y="10" width="1" height="23" fill="#fff"/>
<rect x="256" y="16" width="1" height="14" fill="#4d4d4d"/>
<rect x="255" y="17" width="3" height="1" fill="#4d4d4d"/>
<rect x="254" y="27" width="14" height="1" fill="#4d4d4d"/>
<rect x="266" y="26" width="1" height="3" fill="#4d4d4d"/>
<rect x="284" y="16" width="1" height="14" fill="#4d4d4d"/>
<rect x="283" y="17" width="3" height="1" fill="#4d4d4d"/>
<rect x="282" y="27" width="14" height="1" fill="#4d4d4d"/>
<rect x="294" y="26" width="1" height="3" fill="#4d4d4d"/>
<rect x="312" y="16" width="1" height="14" fill="#4d4d4d"/>
<rect x="311" y="17" width="3" height="1" fill="#4d4d4d"/>
<rect x="310" y="27" width="14" height="1" fill="#4d4d4d"/>
<rect x="322" y="26" width="1" height="3" fill="#4d4d4d"/>
<rect x="436" y="16" width="1" height="14" fill="#4d4d4d"/>
<rect x="435" y="17" width="3" height="1" fill="#4d4d4d"/>
<rect x="434" y="27" width="14" height="1" fill="#4d4d4d"/>
<rect x="446" y="26" width="1" height="3" fill="#4d4d4d"/>
<rect x="464" y="16" width="1" height="14" fill="#4d4d4d"/>
<rect x="463" y="17" width="3" height="1" fill="#4d4d4d"/>
<rect x="462" y="27" width="14" height="1" fill="#4d4d4d"/>
<rect x="474" y="26" width="1" height="3" fill="#4d4d4d"/>
</g>
<path d="M263.5 17V25.5M263.5 18.5H266M263.5 24H260.5" stroke="#1e961e" stroke-width="1.4" fill="none"/>
<rect x="290" y="14" width="1" height="12" fill="#0a8c0a" shape-rendering="crispEdges"/><rect x="288.5" y="16.5" width="4" height="7" fill="url(#gcnd)" stroke="#0a960a"/>
<path d="M311 24.5C314 20 316 18.6 317.5 19C319.5 19.5 321 22 323 23.5" stroke="#2a9a2a" stroke-width="1.3" fill="none"/>
<path d="M13.5 14.5H20.5L23.5 17.5V27.5H13.5Q12.5 27.5 12.5 26.5V15.5Q12.5 14.5 13.5 14.5Z" fill="#fff" stroke="#747474"/><path d="M20.5 14.5V17.5H23.5" fill="none" stroke="#747474"/>
<path d="M14 17H17M14 20.5H20M14 22.5H19M14 24.5H17" stroke="#8a8a8a" stroke-width="1" shape-rendering="crispEdges"/>
<g shape-rendering="crispEdges"><path d="M20 20h4v4h4v4h-4v4h-4v-4h-4v-4h4z" fill="#068a06"/><path d="M21 21h2v4h4v2h-4v4h-2v-4h-4v-2h4z" fill="url(#gpl2)"/></g>
<text class="cj" transform="translate(30.7 25.1) scale(1.07 1)">新订单</text>
<path d="M84.6 14.9L95 23.6L94.6 25L87 29.9L79 24.4L79.4 23Z" fill="#9c6204"/>
<path d="M85 16.2L93.6 23.2L87.6 27.4L80.6 22.8Z" fill="url(#ggold)"/>
<path d="M80 24.2L87 28.8" stroke="#f4d264" stroke-width="1.3"/><path d="M88.4 28.2L94 24.4" stroke="#e8d8a0" stroke-width="0.9"/>
<path d="M109 15.2L111.4 14H118.4L120 15.6V23.5H109Z" fill="#0a9cf8"/><path d="M112.8 16.2H120V23.5H112.8Z" fill="url(#gsrv)"/><path d="M109.4 14.8L112.8 16.2V23" fill="none" stroke="#d8f0ff" stroke-width="0.8"/><path d="M114.2 19.4H118.6" stroke="#fff" stroke-width="1"/>
<path d="M108.6 29.3C106.4 29.3 106.2 25.6 108.8 25.2C109 23.4 111.6 22.9 112.7 24.2C113.5 21.8 117.5 21.5 118.5 24C120.5 23 122.7 24.2 122.4 26.2C123.5 27.2 123 29.3 121.4 29.3Z" fill="url(#gcloud)" stroke="#4a5f94" stroke-width="0.9"/>
<g fill="none" stroke-width="1.2"><circle cx="143" cy="21.8" r="7.5" stroke="#6488dc" opacity="0.55"/><circle cx="143" cy="21.8" r="4.7" stroke="#6488dc" opacity="0.6"/></g>
<path d="M143.4 21.8V29.8A8 8 0 0 0 151 21.8A8 8 0 0 0 146 14.4Z" fill="url(#gsig)"/>
<g fill="none" stroke-width="1.1"><path d="M146 14.9A7.5 7.5 0 0 1 146 28.7" stroke="#3c6a8c" opacity="0.45"/><path d="M144.9 17.5A4.7 4.7 0 0 1 144.9 26.1" stroke="#3c6a8c" opacity="0.4"/></g>
<path d="M143.6 22V29.8" stroke="#1ea51e" stroke-width="1.5"/><circle cx="142.8" cy="21.6" r="2" fill="#2452d2"/>
<path d="M162.2 21.2L178 20.8L176 24L170.6 29.8H168.8Z" fill="url(#gyel)" stroke="#c8960a" stroke-width="0.8"/>
<path d="M161.9 19.6C161.9 17.8 164.6 17.4 166 17.8C166.2 15.2 167.8 14 169.6 14C171.6 14 173 15.2 173.2 17.6C175.4 17 178.2 17.4 178.2 19C178.2 20.6 174 21.6 170 21.6C166 21.6 161.9 21.2 161.9 19.6Z" fill="url(#ghat)" stroke="#2384b4" stroke-width="0.8"/>
<circle cx="174.55" cy="25.55" r="4.2" fill="url(#gred)"/><rect x="173.1" y="24.1" width="2.9" height="2.9" fill="#fff"/>
<text class="cj" transform="translate(183.2 25.1) scale(1.05 1)">自动交易</text>
<path d="M351.8 23.9L357.2 28.2" stroke="#9a6400" stroke-width="3.6" stroke-linecap="butt"/><path d="M352.2 24.3L356.8 27.8" stroke="#f0d030" stroke-width="2" stroke-linecap="butt"/>
<circle cx="347.95" cy="19.95" r="5.5" fill="#d8f2fe" stroke="#2c7ac8" stroke-width="1.3"/>
<path d="M344.6 19.95H351.3" stroke="#3a88b8" stroke-width="2"/>
<path d="M347.95 16.5V23.4" stroke="#3a88b8" stroke-width="2"/>
<path d="M379.8 23.9L385.3 28.2" stroke="#9a6400" stroke-width="3.6" stroke-linecap="butt"/><path d="M380.3 24.3L384.8 27.8" stroke="#f0d030" stroke-width="2" stroke-linecap="butt"/>
<circle cx="376.00" cy="19.95" r="5.5" fill="#d8f2fe" stroke="#2c7ac8" stroke-width="1.3"/>
<path d="M372.6 19.95H379.4" stroke="#3a88b8" stroke-width="2"/>
<linearGradient id="gtg" x1="0" y1="0" x2="0" y2="1"><stop offset="0" stop-color="#2a9008"/><stop offset="1" stop-color="#3aa820"/></linearGradient><linearGradient id="gtb" x1="0" y1="0" x2="0" y2="1"><stop offset="0" stop-color="#0a38b4"/><stop offset="1" stop-color="#2a60dc"/></linearGradient>
<rect x="398" y="14" width="8" height="8" fill="url(#gtg)"/><rect x="399" y="17" width="6" height="4" fill="#fff"/><rect x="400" y="18" width="4" height="1" fill="#8cd070"/><rect x="399" y="15" width="1" height="1" fill="#e8f4e8"/>
<rect x="406" y="14" width="8" height="8" fill="url(#gtb)"/><rect x="407" y="17" width="6" height="4" fill="#fff"/><rect x="408" y="18" width="4" height="1" fill="#7a9af0"/><rect x="407" y="15" width="1" height="1" fill="#e8f4e8"/>
<rect x="398" y="22" width="8" height="8" fill="url(#gtb)"/><rect x="399" y="25" width="6" height="4" fill="#fff"/><rect x="400" y="26" width="4" height="1" fill="#7a9af0"/><rect x="399" y="23" width="1" height="1" fill="#e8f4e8"/>
<rect x="406" y="22" width="8" height="8" fill="url(#gtg)"/><rect x="407" y="25" width="6" height="4" fill="#fff"/><rect x="408" y="26" width="4" height="1" fill="#8cd070"/><rect x="407" y="23" width="1" height="1" fill="#e8f4e8"/>
<path d="M441.5 18.5L445.5 21.5L441.5 24.6Z" fill="#c8f0c8" stroke="#1ea01e" stroke-width="1.1"/>
<rect x="470" y="16" width="1" height="11" fill="#2a6ac8" shape-rendering="crispEdges"/><path d="M476.5 21.6H472.5M474.6 19.4L472.3 21.6L474.6 23.8" stroke="#e05010" stroke-width="1.2" fill="none"/>
<path d="M496.5 14.5H503.5L506.5 17.5V27.5H496.5Q495.5 27.5 495.5 26.5V15.5Q495.5 14.5 496.5 14.5Z" fill="#fff" stroke="#747474"/><path d="M503.5 14.5V17.5H506.5" fill="none" stroke="#747474"/><path d="M498.5 18v7M498.5 17.5q1 -1 2 -1M497.5 20.5h3M497.5 24.5h1.5" stroke="#55503c" stroke-width="0.9" fill="none"/>
<g shape-rendering="crispEdges"><path d="M503 20h4v4h4v4h-4v4h-4v-4h-4v-4h4z" fill="#068a06"/><path d="M504 21h2v4h4v2h-4v4h-2v-4h-4v-2h4z" fill="url(#gpl2)"/></g>
<g shape-rendering="crispEdges" fill="#000"><rect x="517" y="21" width="5" height="1"/><rect x="518" y="22" width="3" height="1"/><rect x="519" y="23" width="1" height="1"/></g>
<g shape-rendering="crispEdges" fill="#000"><rect x="556" y="21" width="5" height="1"/><rect x="557" y="22" width="3" height="1"/><rect x="558" y="23" width="1" height="1"/></g>
<g shape-rendering="crispEdges" fill="#000"><rect x="595" y="21" width="5" height="1"/><rect x="596" y="22" width="3" height="1"/><rect x="597" y="23" width="1" height="1"/></g>
<g shape-rendering="crispEdges" fill="#000"><rect x="901" y="21" width="5" height="1"/><rect x="902" y="22" width="3" height="1"/><rect x="903" y="23" width="1" height="1"/></g>
<circle cx="541" cy="21.85" r="6.85" fill="#f8f8f8" stroke="url(#gclk)" stroke-width="2.4"/><path d="M540.6 18.2V21.8H543.8" stroke="#222" stroke-width="1.3" fill="none"/>
<rect x="572.5" y="15.5" width="15" height="13" fill="#fff" stroke="#3c78d2"/><rect x="572" y="15" width="16" height="3" fill="#3c78d2"/><path d="M573 23.5H587" stroke="#7aa6e6" stroke-width="0.8"/><path d="M574 21.5L577 20.5L580 21L583 19.8L586 19.5" stroke="#c83214" stroke-width="1.1" fill="none"/><path d="M574 26.5L577 25.5L579 26.5L582 25L585 26.5" stroke="#2aa02a" stroke-width="1.1" fill="none"/>
<path d="M624.3 15V27L627 24.4L629.2 29.6L631.2 28.7L629 23.7H632.8Z" fill="#3c3c3c"/>
<g shape-rendering="crispEdges" fill="#555"><rect x="649" y="22" width="6" height="1"/><rect x="658" y="22" width="6" height="1"/><rect x="656" y="15" width="1" height="6"/><rect x="656" y="24" width="1" height="6"/><rect x="656" y="22" width="1" height="1"/></g>
<g stroke="#5a5a5a" stroke-width="1.15" fill="none"><path d="M690.6 16V29.2"/><path d="M712.7 22.5H725.2"/><path d="M741 29L753 17"/>
<path d="M767.5 26L777.5 16.5M770 29.5L781 19"/><path d="M770 21.5L773 28M773.5 19L776.5 25.5M777 16L780 22.5" stroke-width="0.9"/></g>
<text x="777.3" y="30.6" style="font-size:6.5px;font-weight:bold;fill:#444;stroke:none">E</text>
<g stroke="#555" stroke-width="1" stroke-dasharray="1 1" shape-rendering="crispEdges"><path d="M796 15.5H809M796 19.5H809M796 23.5H809M796 27.5H804"/></g>
<text x="805.6" y="30.8" style="font-size:6.5px;font-weight:bold;fill:#444;stroke:none">F</text>
<text x="826.6" y="27" style="font-size:12.6px;fill:#555;font-weight:bold;stroke:none">A</text>
<rect x="853.5" y="16.5" width="11" height="12" fill="none" stroke="#555" stroke-dasharray="1 1" shape-rendering="crispEdges"/><text x="855.3" y="27" style="font-size:10.5px;fill:#555;font-weight:bold;stroke:none">T</text>
<path d="M880.5 19L884 15.5L887.5 19L884 20.5Z M887.5 25.5L891 23L894.5 25.5L891 29.5Z" fill="#444"/><path d="M882.5 22.5L885 25.5L890.5 19" stroke="#444" stroke-width="1.4" fill="none"/>
<text transform="translate(933.7 25.9) scale(0.95 1)" text-anchor="middle" style="fill:#333;stroke:none">M1</text>
<text transform="translate(962.0 25.9) scale(0.95 1)" text-anchor="middle" style="fill:#333;stroke:none">M5</text>
<text transform="translate(990.3 25.9) scale(0.95 1)" text-anchor="middle" style="fill:#333;stroke:none">M15</text>
<text transform="translate(1018.5 25.9) scale(0.95 1)" text-anchor="middle" style="fill:#333;stroke:none">M30</text>
<text transform="translate(1046.4 25.9) scale(0.95 1)" text-anchor="middle" style="fill:#333;stroke:none">H1</text>
<text transform="translate(1074.0 25.9) scale(0.95 1)" text-anchor="middle" style="fill:#333;stroke:none">H4</text>
<text transform="translate(1102.4 25.9) scale(0.95 1)" text-anchor="middle" style="fill:#333;stroke:none">D1</text>
<text transform="translate(1131.2 25.9) scale(0.95 1)" text-anchor="middle" style="fill:#333;stroke:none">W1</text>
<text transform="translate(1158.0 25.9) scale(0.95 1)" text-anchor="middle" style="fill:#333;stroke:none">MN</text>
<path d="M1640.4 22.9L1636.6 26.5" stroke="#1e50c8" stroke-width="3" stroke-linecap="round"/><circle cx="1643.6" cy="19.3" r="4" fill="#f8faff" stroke="#2a60d8" stroke-width="1.4"/>
<linearGradient id="gbub" x1="0" y1="0" x2="0" y2="1"><stop offset="0" stop-color="#ffffff"/><stop offset="1" stop-color="#d4d8e2"/></linearGradient>
<path d="M1660.6 24.5C1660.6 21 1663.6 19.3 1667 19.3C1670.5 19.3 1672.8 21.5 1672.8 24C1672.8 26.6 1670 28.2 1667.5 28.2L1663.4 30.6L1664.6 27.8C1662.2 27.2 1660.6 26 1660.6 24.5Z" fill="url(#gbub)" stroke="#a8a8a8" stroke-width="1"/>
<circle cx="1674.5" cy="19.2" r="8.3" fill="url(#gred)"/><text x="1674.3" y="23.8" text-anchor="middle" style="font-size:12.5px;fill:#fff;stroke:none">1</text>
</svg>
</body></html>
